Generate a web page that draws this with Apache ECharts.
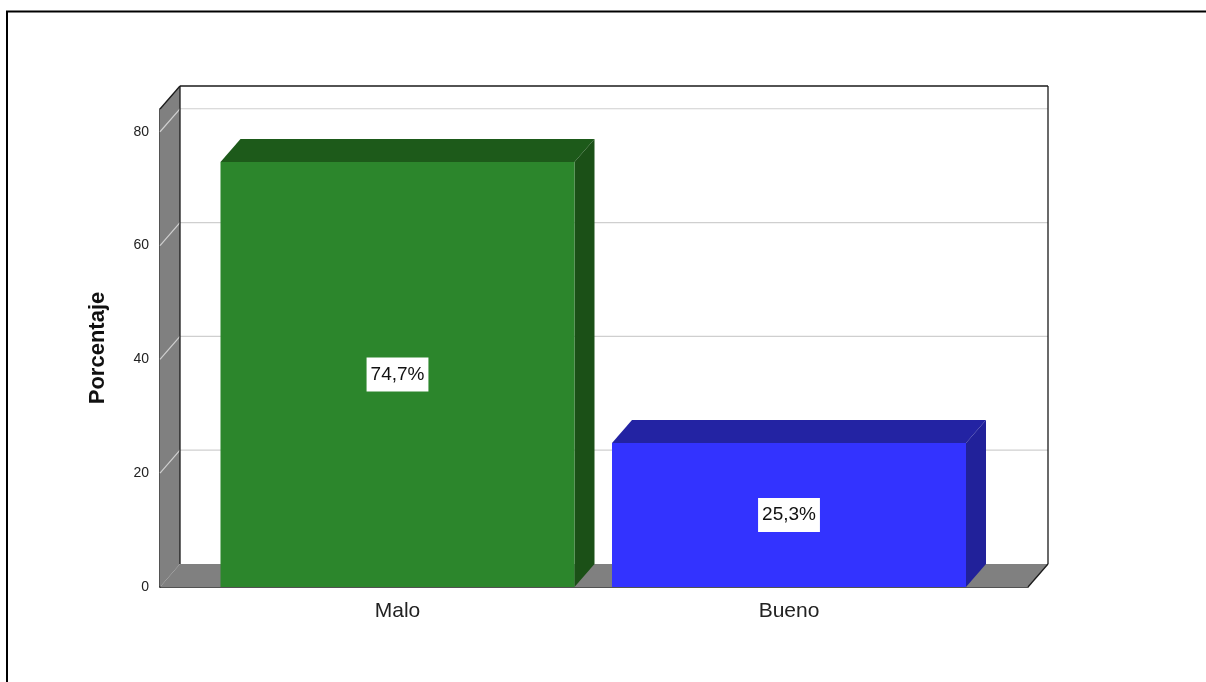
<!DOCTYPE html>
<html>
<head>
<meta charset="utf-8">
<script src="https://cdn.jsdelivr.net/npm/echarts@6/dist/echarts.min.js"></script>
<style>
  html, body { margin: 0; padding: 0; background: #ffffff; }
  #chart { width: 1206px; height: 682px; }
</style>
</head>
<body>
<div id="chart"></div>
<script>
// Chart data
const categories = ['Malo', 'Bueno'];
const percentages = [74.7, 25.3];
const yTicks = [0, 20, 40, 60, 80];
const yMax = 84;

// Appearance
const FONT = "'Liberation Sans', Arial, sans-serif";
const DEPTH = [20, -23];           // 3D depth offset in px (right, up)
const BAR_W = 354;                 // front face width of a bar
const faceColors = [
  { front: '#2c862c', top: '#1d5a1a', side: '#1b5017' },
  { front: '#3333ff', top: '#2323a3', side: '#21219a' }
];
const WALL = '#808080';
const GRID_LINE = '#cfcfcf';
const EDGE = '#1a1a1a';

const chart = echarts.init(document.getElementById('chart'), null, { renderer: 'canvas' });

function shift(p, k) { return [p[0] + DEPTH[0] * k, p[1] + DEPTH[1] * k]; }

// Walls, floor and back-wall gridlines of the 3D box
function renderBox(params, api) {
  const p00 = api.coord([0, 0]);
  const p0t = api.coord([0, yMax]);
  const p10 = api.coord([1, 0]);
  const p1t = api.coord([1, yMax]);
  const children = [];
  children.push({ type: 'polygon', shape: { points: [p00, p0t, shift(p0t, 1), shift(p00, 1)] },
                  style: { fill: WALL }, z2: 1 });
  children.push({ type: 'polygon', shape: { points: [p00, p10, shift(p10, 1), shift(p00, 1)] },
                  style: { fill: WALL }, z2: 1 });
  yTicks.filter(v => v > 0).forEach(v => {
    const a = api.coord([0, v]);
    const b = api.coord([1, v]);
    children.push({ type: 'polyline', shape: { points: [a, shift(a, 1), shift(b, 1)] },
                    style: { stroke: GRID_LINE, lineWidth: 1.2, fill: null }, z2: 2 });
  });
  const edges = [
    [p0t, shift(p0t, 1)],
    [shift(p0t, 1), shift(p1t, 1)],
    [shift(p1t, 1), shift(p10, 1)],
    [shift(p0t, 1), shift(p00, 1)],
    [p10, shift(p10, 1)]
  ];
  edges.forEach(e => children.push({ type: 'polyline', shape: { points: e },
                  style: { stroke: EDGE, lineWidth: 1.3, fill: null }, z2: 3 }));
  return { type: 'group', children };
}

// Top and side faces of each bar
function renderBarDepth(params, api) {
  const idx = api.value(0);
  const top = api.coord([idx, api.value(1)]);
  const base = api.coord([idx, 0]);
  const xl = top[0] - BAR_W / 2;
  const xr = top[0] + BAR_W / 2;
  const c = faceColors[params.dataIndex];
  const tl = [xl, top[1]], tr = [xr, top[1]], br = [xr, base[1]];
  return {
    type: 'group',
    children: [
      { type: 'polygon', shape: { points: [tl, tr, shift(tr, 1), shift(tl, 1)] }, style: { fill: c.top } },
      { type: 'polygon', shape: { points: [tr, shift(tr, 1), shift(br, 1), br] }, style: { fill: c.side } }
    ]
  };
}

const option = {
  backgroundColor: '#ffffff',
  animation: false,
  textStyle: { fontFamily: FONT },
  graphic: [
    { type: 'rect', shape: { x: 7, y: 11.5, width: 1300, height: 800 },
      style: { fill: null, stroke: '#000', lineWidth: 2 }, z: 100 }
  ],
  grid: [
    { left: 160, top: 109, width: 868, height: 478 },
    { left: 201.75, top: 109, width: 783, height: 478 }
  ],
  xAxis: [
    { type: 'value', gridIndex: 0, min: 0, max: 1, show: true,
      axisLine: { show: true, onZero: false, lineStyle: { color: EDGE, width: 1.5 } },
      axisTick: { show: false }, axisLabel: { show: false }, splitLine: { show: false } },
    { type: 'category', gridIndex: 1, data: categories,
      axisLine: { show: false }, axisTick: { show: false },
      axisLabel: { color: '#222', fontSize: 21, margin: 14, fontFamily: FONT } }
  ],
  yAxis: [
    { type: 'value', gridIndex: 0, min: 0, max: yMax, interval: 20,
      name: 'Porcentaje', nameLocation: 'middle', nameGap: 51,
      nameTextStyle: { fontSize: 22, fontWeight: 'bold', color: '#111', fontFamily: FONT },
      axisLine: { show: true, lineStyle: { color: EDGE, width: 1.5 } },
      axisTick: { show: false },
      axisLabel: { color: '#222', fontSize: 14, margin: 11, fontFamily: FONT,
                   showMaxLabel: false, padding: [4, 0, 0, 0],
                   formatter: v => (yTicks.indexOf(v) >= 0 ? String(v) : '') },
      splitLine: { show: false } },
    { type: 'value', gridIndex: 1, min: 0, max: yMax, interval: 20, show: false,
      splitLine: { show: false } }
  ],
  series: [
    { type: 'custom', xAxisIndex: 0, yAxisIndex: 0, data: [[0, 0]],
      renderItem: renderBox, z: 1, silent: true },
    { type: 'custom', xAxisIndex: 1, yAxisIndex: 1,
      data: categories.map((c, i) => [i, percentages[i]]),
      encode: { x: 0, y: 1 },
      renderItem: renderBarDepth, z: 3, silent: true },
    { type: 'bar', xAxisIndex: 1, yAxisIndex: 1, barWidth: BAR_W, z: 4,
      data: percentages.map((v, i) => ({ value: v, itemStyle: { color: faceColors[i].front } })),
      label: {
        show: true, position: 'inside', color: '#111', fontSize: 19, fontFamily: FONT,
        backgroundColor: '#ffffff', padding: [8, 4, 7, 4],
        formatter: p => String(p.value).replace('.', ',') + '%'
      } }
  ]
};
chart.setOption(option);
</script>
</body>
</html>
